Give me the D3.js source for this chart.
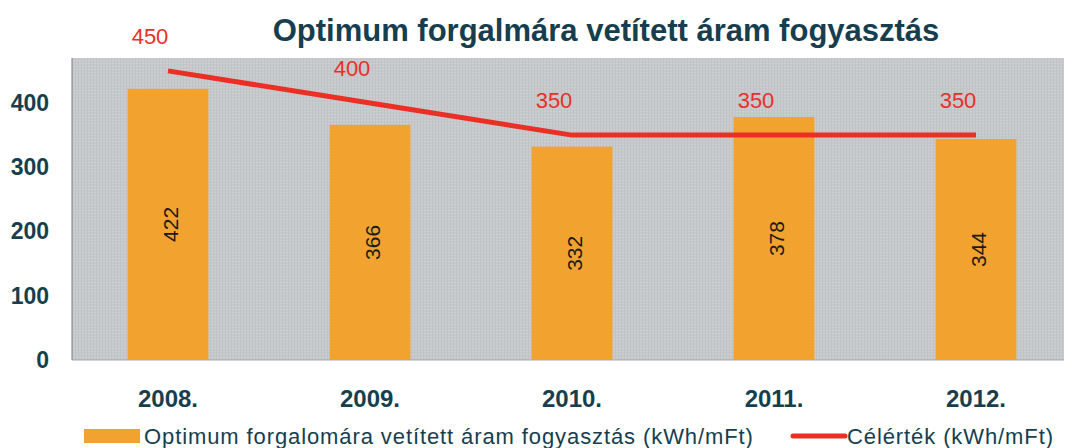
<!DOCTYPE html>
<html>
<head>
<meta charset="utf-8">
<script src="https://cdn.jsdelivr.net/npm/d3@7"></script>
<style>
  body { margin: 0; background: #fff; }
  svg { display: block; font-family: "Liberation Sans", Arial, sans-serif; }
</style>
</head>
<body>
<div id="chart"></div>
<script>
// chart data
var years = ["2008.", "2009.", "2010.", "2011.", "2012."];
var consumption = [422, 366, 332, 378, 344];
var target = [450, 400, 350, 350, 350];
var yTicks = [0, 100, 200, 300, 400];
var titleText = "Optimum forgalmára vetített áram fogyasztás";
var barLegend = "Optimum forgalomára vetített áram fogyasztás (kWh/mFt)";
var lineLegend = "Célérték (kWh/mFt)";

var W = 1066, H = 448;
var plot = {left: 72, right: 1064, top: 58, bottom: 360};

var svg = d3.select("#chart").append("svg").attr("width", W).attr("height", H);

// grainy gray background like the scanned source
var defs = svg.append("defs");
var pat = defs.append("pattern").attr("id", "grain").attr("width", 3).attr("height", 3)
    .attr("patternUnits", "userSpaceOnUse");
pat.append("rect").attr("width", 3).attr("height", 3).attr("fill", "#c6c8cb");
pat.append("rect").attr("width", 3).attr("height", 1).attr("fill", "#cdd0d2");
pat.append("rect").attr("width", 1).attr("height", 3).attr("fill", "#c0c3c6");

var x = d3.scaleBand().domain(years).range([67, 1077]).paddingInner(0.6).paddingOuter(0.3);
var y = d3.scaleLinear().domain([0, 470]).range([plot.bottom, plot.top]);

svg.append("rect")
    .attr("x", plot.left).attr("y", plot.top)
    .attr("width", plot.right - plot.left).attr("height", plot.bottom - plot.top)
    .attr("fill", "url(#grain)");
svg.append("line").attr("x1", plot.left).attr("x2", plot.left)
    .attr("y1", plot.top).attr("y2", plot.bottom)
    .attr("stroke", "#7a7d80").attr("stroke-width", 1);
svg.append("line").attr("x1", plot.left).attr("x2", plot.right)
    .attr("y1", plot.bottom).attr("y2", plot.bottom)
    .attr("stroke", "#a4a6a9").attr("stroke-width", 1);

// title
svg.append("text").attr("x", 606).attr("y", 41).attr("text-anchor", "middle")
    .attr("font-size", 31).attr("font-weight", "bold").attr("fill", "#163e4e")
    .text(titleText);

// y axis
var yAxis = d3.axisLeft(y).tickValues(yTicks).tickSize(0).tickPadding(0);
var gy = svg.append("g").attr("transform", "translate(49,0)").call(yAxis);
gy.select(".domain").remove();
gy.selectAll("text").attr("font-size", 23).attr("font-weight", "bold")
    .attr("fill", "#163e4e").attr("font-family", "Liberation Sans, Arial, sans-serif");

// bars
var data = years.map(function(d, i){ return {year: d, v: consumption[i], t: target[i]}; });
svg.selectAll(".bar").data(data).enter().append("rect").attr("class", "bar")
    .attr("x", function(d){ return x(d.year); })
    .attr("width", x.bandwidth())
    .attr("y", function(d){ return y(d.v); })
    .attr("height", function(d){ return y(0) - y(d.v); })
    .attr("fill", "#f2a22e");

// value labels in the bars (rotated)
svg.selectAll(".val").data(data).enter().append("text").attr("class", "val")
    .attr("transform", function(d){
        var cx = x(d.year) + x.bandwidth() / 2;
        var cy = (y(d.v) + y(0)) / 2;
        return "translate(" + (cx + 10) + "," + cy + ") rotate(-90)";
    })
    .attr("text-anchor", "middle").attr("font-size", 21).attr("fill", "#1a1a1a")
    .text(function(d){ return d.v; });

// target line
var line = d3.line()
    .x(function(d){ return x(d.year) + x.bandwidth() / 2; })
    .y(function(d){ return y(d.t); });
svg.append("path").datum(data).attr("d", line)
    .attr("fill", "none").attr("stroke", "#ea2f24").attr("stroke-width", 5)
    .attr("stroke-linejoin", "round");

svg.selectAll(".tlab").data(data).enter().append("text").attr("class", "tlab")
    .attr("x", function(d){ return x(d.year) + x.bandwidth() / 2 - 18; })
    .attr("y", function(d){ return y(d.t) - 27; })
    .attr("text-anchor", "middle").attr("font-size", 22).attr("fill", "#e8302a")
    .text(function(d){ return d.t; });

// x axis labels
var xAxis = d3.axisBottom(x).tickSize(0).tickPadding(0);
var gx = svg.append("g").attr("transform", "translate(0,407)").call(xAxis);
gx.select(".domain").remove();
gx.selectAll("text").attr("font-size", 24).attr("font-weight", "bold")
    .attr("fill", "#163e4e").attr("dy", 0).attr("font-family", "Liberation Sans, Arial, sans-serif");

// legend
var lg = svg.append("g");
lg.append("rect").attr("x", 84).attr("y", 429).attr("width", 56).attr("height", 14).attr("fill", "#f2a22e");
lg.append("text").attr("x", 144).attr("y", 444).attr("font-size", 22).attr("fill", "#163e4e")
    .attr("letter-spacing", 0.9).text(barLegend);
lg.append("line").attr("x1", 793).attr("x2", 845).attr("y1", 436).attr("y2", 436)
    .attr("stroke", "#ea2f24").attr("stroke-width", 5).attr("stroke-linecap", "round");
lg.append("text").attr("x", 847).attr("y", 444).attr("font-size", 22).attr("fill", "#163e4e")
    .attr("letter-spacing", 0.9).text(lineLegend);
</script>
</body>
</html>
